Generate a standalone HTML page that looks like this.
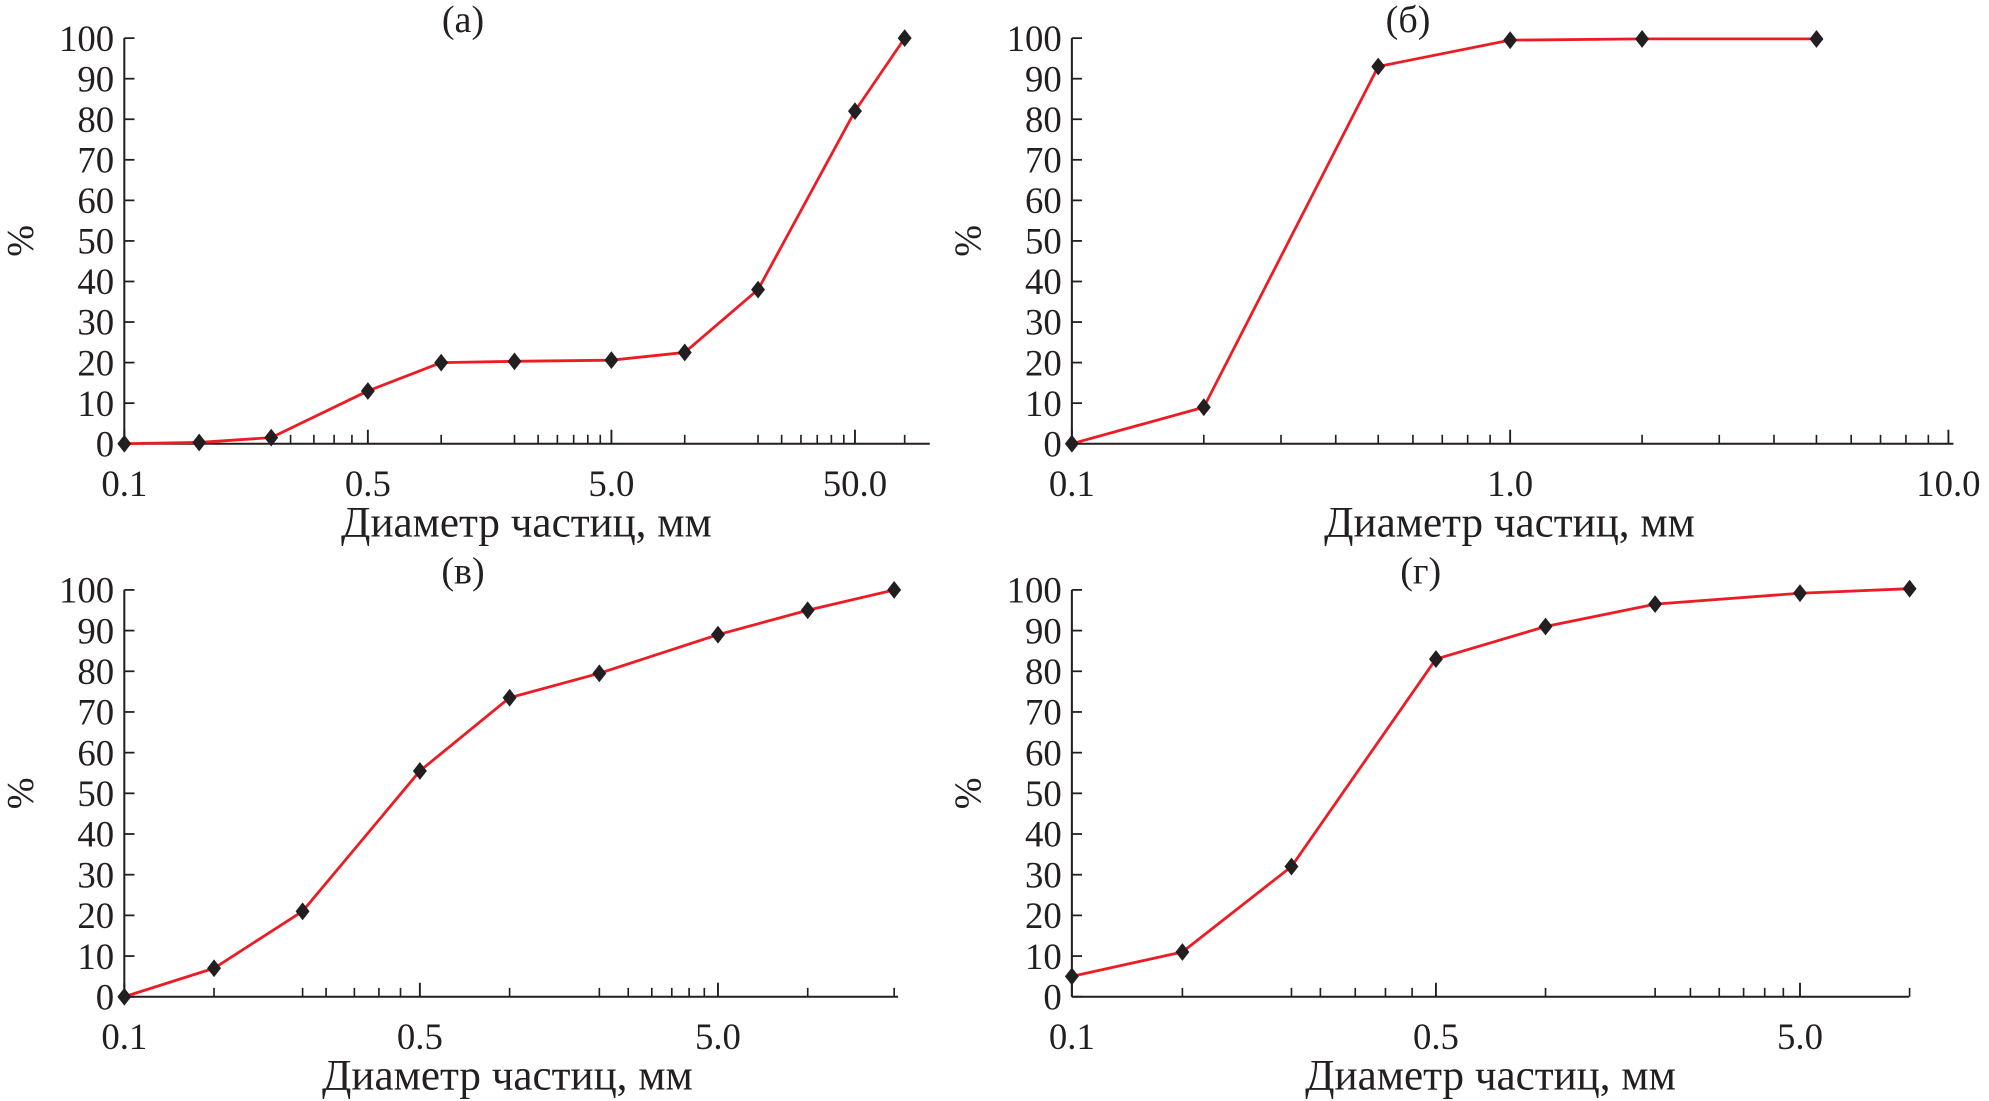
<!DOCTYPE html>
<html><head><meta charset="utf-8"><style>
html,body{margin:0;padding:0;background:#fff;}
svg{display:block;}
text{font-family:"Liberation Serif",serif;fill:#231f20;}
</style></head><body>
<svg id="fig" width="1989" height="1101" viewBox="0 0 1568 866" preserveAspectRatio="none" xmlns="http://www.w3.org/2000/svg"></svg>
<script>
// Panel (a)
const aSizes = [0.1, 0.164, 0.264, 0.5, 1, 2, 5, 10, 20, 50, 80];
const aValues = [0, 0.3, 1.5, 13, 20, 20.3, 20.6, 22.5, 38, 82, 100];
const aTickLabels = ["0.1", "0.5", "5.0", "50.0"];
// Panel (б)
const bSizes = [0.1, 0.2, 0.5, 1, 2, 5];
const bValues = [0, 9, 93, 99.5, 99.8, 99.8];
const bTickLabels = ["0.1", "1.0", "10.0"];
// Panel (в)
const vSizes = [0.1, 0.163, 0.264, 0.5, 1, 2, 5, 10, 19.5];
const vValues = [0, 7, 21, 55.5, 73.5, 79.5, 89, 95, 100];
const vTickLabels = ["0.1", "0.5", "5.0"];
// Panel (г)
const gSizes = [0.1, 0.163, 0.264, 0.5, 1, 2, 5, 10];
const gValues = [5, 11, 32, 83, 91, 96.5, 99.2, 100.3];
const gTickLabels = ["0.1", "0.5", "5.0"];
const yTicks = [0,10,20,30,40,50,60,70,80,90,100];

const NS = "http://www.w3.org/2000/svg";
const svg = document.getElementById("fig");
function mk(tag, attrs, parent){ const e=document.createElementNS(NS,tag); for(const k in attrs) e.setAttribute(k,attrs[k]); (parent||svg).appendChild(e); return e; }

function panel(cfg){
  const g = mk("g",{});
  
  
  const av = cfg.anchors, ap = cfg.anchorPx;
  function xs(v){
    let i=0; while(i<av.length-2 && v>av[i+1]) i++;
    const f=(Math.log(v)-Math.log(av[i]))/(Math.log(av[i+1])-Math.log(av[i]));
    return ap[i]+f*(ap[i+1]-ap[i]);
  }
  const ys = v => cfg.y0 + (cfg.y100-cfg.y0)*v/100;
  const x0 = ap[0];
  const ya = mk("line",{x1:x0,y1:cfg.y0,x2:x0,y2:cfg.y100,stroke:"#231f20","stroke-width":1.6},g);
   
  const xa = mk("line",{x1:x0,y1:cfg.y0,x2:cfg.xEnd,y2:cfg.y0,stroke:"#231f20","stroke-width":1.6},g);
   
  yTicks.forEach(t=>{
    const y=ys(t);
    const tk=mk("line",{x1:x0,y1:y,x2:x0+8,y2:y,stroke:"#231f20","stroke-width":1.4},g);
     
    const tx=mk("text",{x:x0-8,y:y+10,"text-anchor":"end","font-size":29},g);
    tx.textContent=t;
     
  });
  cfg.minor.forEach(v=>{
    const x=xs(v);
    const tk=mk("line",{x1:x,y1:cfg.y0,x2:x,y2:cfg.y0-7,stroke:"#231f20","stroke-width":1.3},g);
     
  });
  cfg.labels.forEach((l,i)=>{
    const x=ap[i];
    const tk=mk("line",{x1:x,y1:cfg.y0,x2:x,y2:cfg.y0-11,stroke:"#231f20","stroke-width":1.5},g);
     
    const tx=mk("text",{x:x,y:cfg.y0+41,"text-anchor":"middle","font-size":29},g);
    tx.textContent=l;
     
  });
  const pts=cfg.sizes.map((s,i)=>xs(s).toFixed(1)+","+ys(cfg.values[i]).toFixed(1)).join(" ");
  const pl=mk("polyline",{points:pts,fill:"none",stroke:"#ed1c24","stroke-width":2.2,"stroke-linejoin":"round"},g);
   
  cfg.sizes.forEach((s,i)=>{
    const x=xs(s), y=ys(cfg.values[i]);
    const d=mk("polygon",{points:`${x},${y-7} ${x+5.5},${y} ${x},${y+7} ${x-5.5},${y}`,fill:"#231f20"},g);
     
  });
  const ttl=mk("text",{x:cfg.titleX,y:cfg.y100-5,"text-anchor":"middle","font-size":30},g);
  ttl.textContent=cfg.title;
   
  const xt=mk("text",{x:cfg.xTitleX,y:cfg.y0+73,"text-anchor":"middle","font-size":34},g);
  xt.textContent="Диаметр частиц, мм";
   
  const yl=mk("text",{x:0,y:0,"text-anchor":"middle","font-size":30,transform:`translate(${x0-72},${(cfg.y0+cfg.y100)/2}) rotate(-90)`},g);
  yl.textContent="%";
   
}

panel({name:"panel-a",anchors:[0.1,0.5,5,50],anchorPx:[98,290,482,674],labels:aTickLabels,xEnd:733,y0:349,y100:30,
  sizes:aSizes,values:aValues,title:"(a)",titleX:365,xTitleX:415,
  minor:[0.164,0.264,0.3,0.35,0.4,0.45,1,2,2.5,3,3.5,4,4.5,10,20,25,30,35,40,45,80]});
panel({name:"panel-b",anchors:[0.1,1,10],anchorPx:[845,1190.5,1536],labels:bTickLabels,xEnd:1540,y0:349,y100:30,
  sizes:bSizes,values:bValues,title:"(б)",titleX:1110,xTitleX:1190,
  minor:[0.2,0.3,0.4,0.5,0.6,0.7,0.8,0.9,2,3,4,5,6,7,8,9]});
panel({name:"panel-v",anchors:[0.1,0.5,5],anchorPx:[98,331,566],labels:vTickLabels,xEnd:708,y0:784,y100:464,
  sizes:vSizes,values:vValues,title:"(в)",titleX:365,xTitleX:400,
  minor:[0.163,0.264,0.3,0.35,0.4,0.45,1,2,2.5,3,3.5,4,4.5,10,19.5]});
panel({name:"panel-g",anchors:[0.1,0.5,5],anchorPx:[845,1132,1419],labels:gTickLabels,xEnd:1505,y0:784,y100:464,
  sizes:gSizes,values:gValues,title:"(г)",titleX:1120,xTitleX:1175,
  minor:[0.163,0.264,0.3,0.35,0.4,0.45,1,2,2.5,3,3.5,4,4.5,10]});
</script>
</body></html>
